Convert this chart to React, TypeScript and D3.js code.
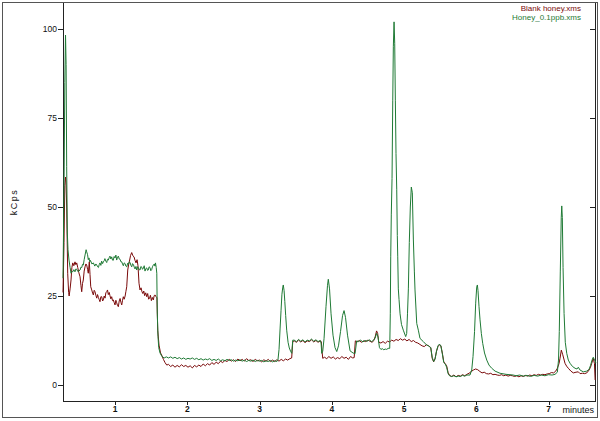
import React from "react";
import * as d3 from "d3";

const seriesNames = ["Blank honey.xms", "Honey_0.1ppb.xms"];
const seriesColors = ["#7a0a0a", "#1f7a35"];
const xTicks = [1, 2, 3, 4, 5, 6, 7];
const yTicks = [0, 25, 50, 75, 100];
const xLabel = "minutes";
const yLabel = "kCps";

// Blank honey (minutes, kCps)
const blankHoney: [number, number][] = [
  [0.28, 26], [0.294, 40], [0.305, 56], [0.315, 58.4], [0.322, 57], [0.331, 50], [0.345, 31.4], [0.358, 26],
  [0.365, 25], [0.378, 27], [0.391, 29.5], [0.403, 33], [0.415, 34.3], [0.43, 33.5], [0.446, 34.6], [0.458, 33.8],
  [0.47, 34.3], [0.484, 33], [0.5, 31.5], [0.516, 30.4], [0.528, 28], [0.539, 26.2], [0.55, 28.5], [0.561, 29.5],
  [0.573, 32], [0.585, 33.2], [0.597, 34], [0.608, 33.7], [0.62, 32.5], [0.63, 31.4], [0.644, 34.6], [0.654, 31],
  [0.664, 27.6], [0.678, 26.7], [0.69, 25.8], [0.7, 25.3], [0.712, 26.6], [0.723, 26.2], [0.735, 25.2], [0.747, 24.4],
  [0.758, 25.4], [0.77, 24.6], [0.781, 24.0], [0.792, 23.4], [0.804, 24.8], [0.816, 24.8], [0.828, 23.6], [0.838, 23.9],
  [0.85, 25], [0.862, 24.4], [0.873, 25.9], [0.885, 26.2], [0.896, 26.7], [0.907, 25.4], [0.92, 26], [0.93, 25.1],
  [0.942, 24.2], [0.954, 24.8], [0.965, 23.7], [0.976, 23.9], [0.988, 23.2], [1.0, 22.5], [1.012, 23.8], [1.023, 23.1],
  [1.035, 22.3], [1.046, 22], [1.058, 23.6], [1.07, 24.3], [1.082, 23.2], [1.093, 22.5], [1.104, 23.8], [1.115, 24.8],
  [1.127, 24.1], [1.14, 25], [1.15, 26.2], [1.162, 27.6], [1.176, 32.3], [1.19, 34], [1.198, 34.6], [1.215, 36.4],
  [1.231, 37.2], [1.247, 36.3], [1.263, 36], [1.277, 35], [1.291, 34.3], [1.305, 35.2], [1.318, 33.5], [1.332, 28.6],
  [1.346, 26.7], [1.36, 27.3], [1.373, 26.2], [1.385, 25.7], [1.398, 26.4], [1.41, 25.1], [1.425, 25.9], [1.439, 24.8],
  [1.452, 25.7], [1.465, 24.1], [1.478, 24.4], [1.49, 25.2], [1.503, 23.7], [1.516, 24.6], [1.53, 23.9], [1.542, 25.1],
  [1.554, 25.3], [1.568, 24.8], [1.58, 24.5], [1.591, 15.4], [1.609, 11.2], [1.63, 9.0], [1.646, 8.4], [1.67, 7.2],
  [1.692, 6.3], [1.716, 5.6], [1.74, 5.8], [1.77, 5.2], [1.8, 5.6], [1.83, 5.0], [1.86, 5.5], [1.89, 5.1],
  [1.92, 5.7], [1.95, 5.2], [1.98, 5.5], [2.01, 5.0], [2.04, 5.4], [2.07, 4.8], [2.1, 5.5], [2.13, 5.1],
  [2.16, 5.6], [2.19, 5.2], [2.22, 5.9], [2.25, 5.4], [2.28, 6.0], [2.31, 5.6], [2.34, 6.3], [2.37, 5.8],
  [2.4, 6.4], [2.43, 6.0], [2.46, 6.7], [2.49, 6.3], [2.52, 6.9], [2.55, 6.6], [2.58, 7.2], [2.61, 6.7],
  [2.64, 7.1], [2.67, 6.6], [2.7, 7.3], [2.73, 6.8], [2.76, 7.2], [2.79, 6.7], [2.82, 7.4], [2.85, 6.9],
  [2.88, 7.1], [2.91, 6.6], [2.94, 7.2], [2.97, 6.8], [3.0, 7.0], [3.03, 6.5], [3.06, 7.1], [3.09, 6.7],
  [3.12, 7.2], [3.15, 6.6], [3.18, 7.0], [3.21, 6.6], [3.24, 7.1], [3.27, 6.7], [3.3, 7.2], [3.33, 6.8],
  [3.36, 7.3], [3.39, 7.0], [3.42, 7.4], [3.445, 7.6], [3.46, 12.2], [3.48, 12.4], [3.51, 12.0], [3.54, 12.6],
  [3.57, 12.1], [3.6, 12.5], [3.63, 11.9], [3.66, 12.4], [3.69, 12.2], [3.72, 12.7], [3.75, 12.1], [3.78, 12.5],
  [3.81, 12.0], [3.84, 12.4], [3.855, 12.2], [3.865, 9.5], [3.875, 7.5], [3.9, 7.8], [3.93, 7.4], [3.96, 8.0],
  [3.99, 7.5], [4.02, 7.9], [4.05, 7.3], [4.08, 7.7], [4.11, 7.4], [4.14, 8.0], [4.17, 7.5], [4.2, 7.8],
  [4.23, 7.2], [4.26, 8.0], [4.29, 7.6], [4.31, 7.7], [4.326, 12.4], [4.35, 12.1], [4.38, 12.5], [4.41, 12.0],
  [4.44, 12.4], [4.47, 12.2], [4.5, 12.6], [4.53, 12.3], [4.56, 12.0], [4.58, 12.5], [4.6, 13.5], [4.62, 15.2],
  [4.635, 14.5], [4.65, 12.0], [4.68, 11.8], [4.71, 12.2], [4.74, 11.7], [4.77, 12.3], [4.8, 12.1], [4.83, 12.6],
  [4.86, 12.3], [4.89, 12.8], [4.92, 12.5], [4.95, 13.0], [4.98, 12.6], [5.01, 12.9], [5.04, 12.4], [5.07, 12.8],
  [5.1, 12.2], [5.13, 12.5], [5.16, 12.0], [5.19, 11.8], [5.22, 11.4], [5.25, 11.0], [5.28, 10.8], [5.31, 11.3],
  [5.34, 11.0], [5.37, 10.5], [5.39, 7.5], [5.41, 6.5], [5.43, 7.5], [5.45, 9.5], [5.47, 10.8], [5.49, 11.3],
  [5.51, 11.0], [5.53, 9.0], [5.55, 6.5], [5.57, 6.0], [5.59, 5.4], [5.61, 3.5], [5.63, 2.7], [5.66, 2.4],
  [5.69, 2.8], [5.72, 2.3], [5.75, 2.7], [5.78, 2.5], [5.81, 2.9], [5.84, 2.6], [5.87, 3.0], [5.9, 3.3],
  [5.93, 3.8], [5.96, 4.2], [5.99, 4.5], [6.02, 4.3], [6.05, 3.8], [6.08, 3.4], [6.11, 3.6], [6.14, 3.2],
  [6.17, 3.1], [6.2, 3.3], [6.23, 2.9], [6.26, 3.0], [6.29, 2.8], [6.32, 2.7], [6.35, 2.9], [6.38, 2.6],
  [6.41, 2.8], [6.44, 2.5], [6.47, 2.7], [6.5, 2.6], [6.53, 2.4], [6.56, 2.6], [6.59, 2.3], [6.62, 2.6],
  [6.65, 2.4], [6.68, 2.7], [6.71, 2.5], [6.74, 2.8], [6.77, 2.6], [6.8, 2.9], [6.83, 2.7], [6.86, 3.0],
  [6.89, 2.8], [6.92, 3.0], [6.95, 2.9], [6.98, 3.1], [7.01, 3.2], [7.04, 3.5], [7.07, 3.4], [7.1, 3.9],
  [7.122, 4.7], [7.145, 6.0], [7.159, 7.5], [7.177, 9.8], [7.197, 8.5], [7.228, 6.1], [7.25, 5.3], [7.274, 4.7],
  [7.31, 3.9], [7.343, 3.4], [7.38, 3.6], [7.412, 3.7], [7.436, 3.2], [7.47, 3.3], [7.5, 3.2], [7.529, 3.4],
  [7.561, 4.2], [7.581, 5.0], [7.598, 6.1], [7.619, 7.5], [7.636, 6.0], [7.645, 1.4],
];

// Honey 0.1 ppb (minutes, kCps)
const honey01: [number, number][] = [
  [0.28, 30], [0.294, 55], [0.305, 85], [0.315, 98.3], [0.323, 90], [0.331, 61.3], [0.34, 42.7], [0.349, 38],
  [0.363, 35.1], [0.378, 33], [0.391, 31.4], [0.403, 31.9], [0.415, 31.8], [0.43, 32.4], [0.446, 31.8], [0.458, 32.6],
  [0.47, 32.5], [0.485, 31.9], [0.5, 32.0], [0.516, 32.3], [0.528, 33.1], [0.54, 33.0], [0.55, 33.9], [0.561, 33.7],
  [0.573, 35.2], [0.585, 36.5], [0.6, 38.0], [0.608, 37.4], [0.62, 36.6], [0.63, 35.2], [0.64, 35.7], [0.65, 34.6],
  [0.66, 35.0], [0.68, 34.0], [0.7, 34.3], [0.72, 33.4], [0.735, 34.0], [0.747, 33.7], [0.76, 33.2], [0.77, 33.0],
  [0.781, 33.8], [0.792, 34.3], [0.804, 33.6], [0.815, 34.8], [0.828, 34.1], [0.838, 34.6], [0.85, 34.9], [0.86, 35.5],
  [0.873, 34.8], [0.885, 34.4], [0.896, 35.3], [0.907, 35.1], [0.92, 35.8], [0.93, 36.2], [0.942, 35.4], [0.954, 36.0],
  [0.965, 35.1], [0.975, 35.0], [0.988, 36.1], [1.0, 35.7], [1.012, 36.5], [1.023, 35.1], [1.035, 35.9], [1.046, 36.2],
  [1.058, 35.4], [1.07, 35.3], [1.082, 34.6], [1.093, 34.6], [1.104, 34.0], [1.115, 33.5], [1.127, 34.3], [1.14, 34.1],
  [1.15, 33.4], [1.162, 33.2], [1.175, 34.2], [1.185, 33.9], [1.198, 34.6], [1.21, 34.3], [1.22, 33.6], [1.231, 33.2],
  [1.243, 34.1], [1.255, 33.8], [1.266, 33.1], [1.277, 32.6], [1.29, 33.3], [1.3, 32.3], [1.312, 33.2], [1.323, 33.0],
  [1.335, 32.4], [1.346, 32.3], [1.358, 33.3], [1.37, 33.1], [1.38, 32.5], [1.392, 32.8], [1.404, 33.5], [1.415, 32.0],
  [1.427, 32.7], [1.439, 32.9], [1.45, 32.2], [1.46, 32.3], [1.472, 33.2], [1.484, 33.0], [1.495, 32.1], [1.507, 32.4],
  [1.518, 33.2], [1.53, 33.7], [1.545, 34.0], [1.552, 33.4], [1.56, 34.3], [1.57, 33.0], [1.578, 31.4], [1.585, 20.2],
  [1.595, 13.6], [1.605, 10.5], [1.623, 9.0], [1.65, 8.0], [1.68, 7.6], [1.71, 7.9], [1.74, 7.6], [1.77, 7.9],
  [1.8, 7.5], [1.83, 7.8], [1.86, 7.4], [1.89, 7.7], [1.92, 7.3], [1.95, 7.6], [1.98, 7.2], [2.01, 7.5],
  [2.04, 7.3], [2.07, 7.6], [2.1, 7.2], [2.13, 7.5], [2.16, 7.1], [2.19, 7.4], [2.22, 7.0], [2.25, 7.3],
  [2.28, 7.1], [2.31, 7.4], [2.34, 6.9], [2.37, 7.2], [2.4, 6.9], [2.43, 7.3], [2.46, 6.8], [2.49, 7.1],
  [2.52, 6.8], [2.55, 7.2], [2.58, 6.9], [2.61, 7.1], [2.64, 6.7], [2.67, 7.0], [2.7, 6.8], [2.73, 7.1],
  [2.76, 6.7], [2.79, 7.0], [2.82, 6.6], [2.85, 6.9], [2.88, 6.7], [2.91, 7.0], [2.94, 6.6], [2.97, 6.9],
  [3.0, 6.7], [3.03, 6.9], [3.06, 6.5], [3.09, 6.8], [3.12, 6.6], [3.15, 6.9], [3.18, 6.5], [3.21, 6.8],
  [3.24, 6.6], [3.255, 7.0], [3.27, 10], [3.285, 16], [3.298, 21], [3.31, 25.5], [3.322, 27.5], [3.329, 28.1],
  [3.34, 26.5], [3.35, 23.5], [3.362, 19.5], [3.376, 15.4], [3.395, 12], [3.412, 10.4], [3.43, 9.5], [3.446, 8.9],
  [3.46, 12.6], [3.48, 12.6], [3.51, 12.2], [3.54, 12.8], [3.57, 12.3], [3.6, 12.7], [3.63, 12.1], [3.66, 12.6],
  [3.69, 12.4], [3.72, 12.9], [3.75, 12.3], [3.78, 12.7], [3.81, 12.2], [3.84, 12.5], [3.852, 11.8], [3.861, 8.9],
  [3.875, 9.5], [3.893, 13], [3.92, 22], [3.941, 28], [3.952, 29.7], [3.969, 27], [3.99, 20], [4.017, 14],
  [4.045, 10.5], [4.069, 9.4], [4.093, 11], [4.121, 15], [4.149, 19.5], [4.17, 20.9], [4.19, 19], [4.218, 14],
  [4.253, 9.6], [4.294, 9.0], [4.322, 8.8], [4.345, 12.4], [4.37, 12.2], [4.4, 12.6], [4.43, 12.1], [4.46, 12.5],
  [4.49, 12.3], [4.52, 12.7], [4.55, 12.2], [4.58, 12.6], [4.6, 13.2], [4.62, 14.5], [4.64, 13.5], [4.66, 10.5],
  [4.68, 10.0], [4.7, 10.2], [4.72, 9.9], [4.74, 10.1], [4.76, 10.0], [4.78, 10.3], [4.802, 10.3], [4.81, 20],
  [4.816, 36], [4.824, 48], [4.834, 58], [4.844, 80], [4.852, 95], [4.862, 102], [4.871, 96], [4.88, 80],
  [4.889, 65], [4.899, 55], [4.907, 42], [4.913, 36], [4.921, 27], [4.931, 24], [4.945, 20], [4.965, 17],
  [4.99, 15.4], [5.023, 13.6], [5.037, 14.5], [5.048, 20], [5.06, 27], [5.073, 40], [5.087, 50], [5.101, 55.6],
  [5.115, 54], [5.129, 41], [5.143, 32], [5.152, 26.7], [5.176, 17.3], [5.198, 15.4], [5.221, 13.1], [5.267, 12.2],
  [5.314, 11.2], [5.339, 11.0], [5.37, 10.5], [5.39, 7.8], [5.41, 6.6], [5.43, 7.3], [5.45, 9.6], [5.47, 11.0],
  [5.49, 11.5], [5.51, 11.0], [5.53, 8.8], [5.55, 6.3], [5.57, 5.9], [5.59, 5.0], [5.61, 3.2], [5.63, 2.6],
  [5.66, 2.4], [5.69, 2.6], [5.72, 2.3], [5.75, 2.5], [5.78, 2.4], [5.81, 2.7], [5.84, 2.5], [5.871, 2.8],
  [5.913, 2.8], [5.937, 4.2], [5.955, 8], [5.976, 15], [5.992, 23], [6.006, 27.5], [6.015, 28.1], [6.024, 26.5],
  [6.038, 22], [6.052, 18.3], [6.07, 14.5], [6.089, 11.7], [6.114, 9], [6.145, 7.0], [6.176, 5.6], [6.214, 4.7],
  [6.26, 3.9], [6.329, 3.3], [6.412, 3.0], [6.513, 2.8], [6.55, 2.6], [6.6, 2.8], [6.65, 2.5], [6.7, 2.7],
  [6.75, 2.4], [6.8, 2.7], [6.85, 2.5], [6.9, 2.8], [6.95, 2.6], [7.0, 2.9], [7.05, 2.8], [7.09, 3.0],
  [7.122, 3.6], [7.138, 7], [7.149, 15], [7.163, 32], [7.176, 47], [7.183, 50.3], [7.191, 47], [7.201, 33],
  [7.215, 20.1], [7.232, 12], [7.252, 8.9], [7.274, 7], [7.298, 6.1], [7.332, 5.2], [7.367, 4.7], [7.394, 4.5],
  [7.412, 5.0], [7.436, 4.2], [7.481, 3.7], [7.529, 3.9], [7.561, 4.4], [7.581, 5.5], [7.602, 7], [7.619, 7.8],
  [7.642, 6.8], [7.656, 6.2],
];

export default function App() {
  const W = 600;
  const H = 421;
  const left = 63;
  const right = 596;
  const top = 3;
  const bottom = 401;

  const x = d3.scaleLinear().domain([0.28, 7.657]).range([left, right]);
  const y = d3.scaleLinear().domain([-4.49, 107.3]).range([bottom, top]);

  const line = d3
    .line<[number, number]>()
    .x((d) => x(d[0]))
    .y((d) => y(d[1]));

  const font = "Liberation Sans, Arial, sans-serif";

  return (
    <svg
      width={W}
      height={H}
      viewBox={`0 0 ${W} ${H}`}
      style={{ position: "absolute", left: 0, top: 0, background: "#fff" }}
    >
      <rect x={0} y={0} width={W} height={H} fill="#fff" />
      {/* outer frame */}
      <rect x={2.5} y={2.5} width={595} height={415} fill="none" stroke="#555" strokeWidth={1} />

      {/* axes */}
      <line x1={left + 0.5} x2={left + 0.5} y1={top} y2={bottom} stroke="#222" />
      <line x1={left} x2={right} y1={bottom + 0.5} y2={bottom + 0.5} stroke="#222" />
      <line x1={right - 0.5} x2={right - 0.5} y1={top} y2={bottom} stroke="#222" />

      {yTicks.map((t) => (
        <g key={"y" + t}>
          <line x1={left - 5} x2={left} y1={Math.round(y(t)) + 0.5} y2={Math.round(y(t)) + 0.5} stroke="#222" />
          <line x1={right - 6} x2={right} y1={Math.round(y(t)) + 0.5} y2={Math.round(y(t)) + 0.5} stroke="#222" />
          <text
            x={left - 6}
            y={y(t) + 3}
            textAnchor="end"
            fontFamily={font}
            fontSize={8.5}
            fill="#111"
          >
            {t}
          </text>
        </g>
      ))}

      {xTicks.map((t) => (
        <g key={"x" + t}>
          <line x1={Math.round(x(t)) + 0.5} x2={Math.round(x(t)) + 0.5} y1={bottom} y2={bottom + 4} stroke="#222" />
          <text
            x={x(t)}
            y={bottom + 11}
            textAnchor="middle"
            fontFamily={font}
            fontSize={8.5}
            fontWeight="bold"
            fill="#111"
          >
            {t}
          </text>
        </g>
      ))}

      <text x={594} y={413} textAnchor="end" fontFamily={font} fontSize={9} fill="#111">
        {xLabel}
      </text>
      <text
        transform={`translate(17, ${(top + bottom) / 2}) rotate(-90)`}
        textAnchor="middle"
        fontFamily={font}
        fontSize={9}
        letterSpacing={1.5}
        fill="#111"
      >
        {yLabel}
      </text>

      {/* traces */}
      <path d={line(blankHoney) || ""} fill="none" stroke={seriesColors[0]} strokeWidth={1} />
      <path d={line(honey01) || ""} fill="none" stroke={seriesColors[1]} strokeWidth={1} />

      {/* legend */}
      {seriesNames.map((n, i) => (
        <text
          key={n}
          x={581}
          y={11 + i * 9}
          textAnchor="end"
          fontFamily={font}
          fontSize={8}
          fill={seriesColors[i]}
        >
          {n}
        </text>
      ))}
    </svg>
  );
}
